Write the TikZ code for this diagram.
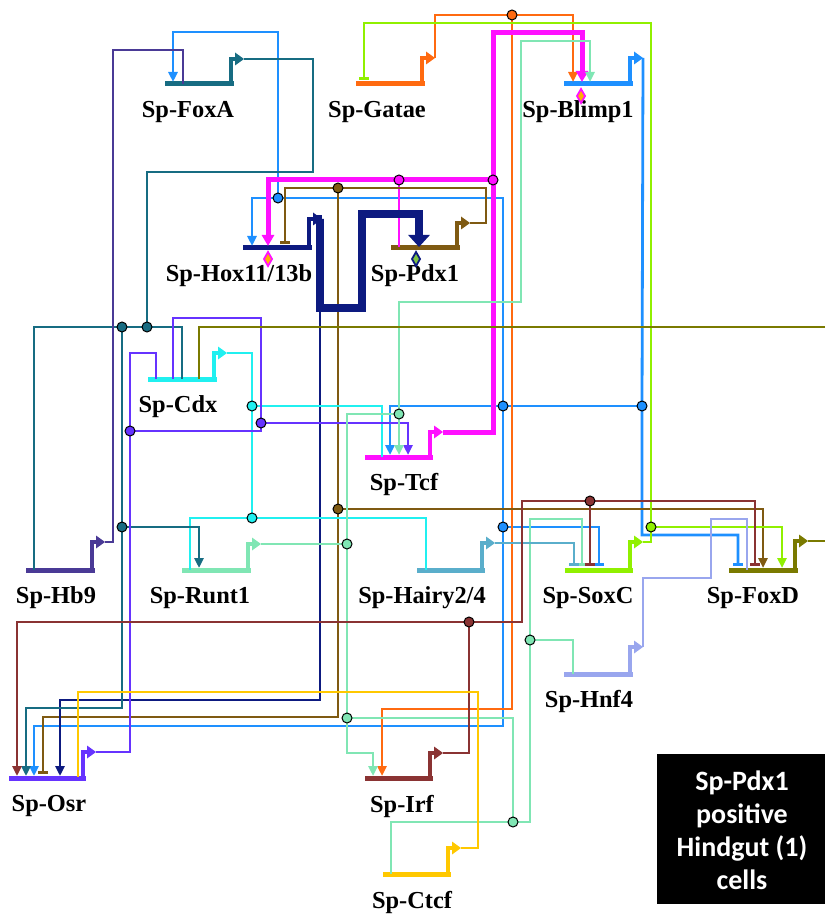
\documentclass[tikz,border=0pt]{standalone}
\usepackage{fontspec}
\setmainfont{Liberation Serif}
\newfontfamily\boxfont{Carlito}
\usetikzlibrary{arrows.meta}
\definecolor{cFoxA}{HTML}{176C82}
\definecolor{cGatae}{HTML}{FF6A10}
\definecolor{cBlimp}{HTML}{1E90FF}
\definecolor{cHox}{HTML}{0D1A80}
\definecolor{cPdx}{HTML}{7F5A12}
\definecolor{cCdx}{HTML}{20F0F0}
\definecolor{cTcf}{HTML}{FF10FF}
\definecolor{cHb}{HTML}{4A3A96}
\definecolor{cRunt}{HTML}{80E6B4}
\definecolor{cHairy}{HTML}{5AAECB}
\definecolor{cSoxC}{HTML}{90F000}
\definecolor{cFoxD}{HTML}{7A7A00}
\definecolor{cHnf}{HTML}{99A6EE}
\definecolor{cOsr}{HTML}{6633FF}
\definecolor{cIrf}{HTML}{8A3333}
\definecolor{cCtcf}{HTML}{FFC800}
\definecolor{cDia}{HTML}{FFB000}
\definecolor{cDiaG}{HTML}{7DC243}
\tikzset{
  lk/.style={line width=1.4pt},
  tk/.style={line width=2.5pt},
  act/.style={-{Triangle[length=5pt,width=4.5pt]}},
  tact/.style={-{Triangle[length=5.5pt,width=6pt]}},
  rep/.style={-{Bar[width=5pt]}},
  jn/.style={circle,draw=black,line width=0.5pt,minimum size=5pt,inner sep=0pt},
  lbl/.style={font=\bfseries\fontsize{12.2}{14}\selectfont,inner sep=0pt},
}
\newcommand\gene[8]{%
  \draw[color=#2,line width=2.5pt] (#3,#5) -- (#4,#5);
  \draw[color=#2,line width=2.1pt] ({#4-3},{#5+1}) -- ({#4-3},#6) -- ({#4+2},#6);
  \fill[color=#2] ({#4+1},{#6-6.5}) -- ({#4+10},#6) -- ({#4+1},{#6+6.5}) -- cycle;
  \coordinate (#1-o) at ({#4+10},#6);
  \node[lbl] (#1) at (#7,{#5+28}) {#8};
}
\newcommand\dia[3]{\draw[line width=0.9pt,draw=#2,fill=#3] (#1) ++(0,-7) -- ++(4,7) -- ++(-4,7) -- ++(-4,-7) -- cycle;}
\begin{document}
\begin{tikzpicture}[x=0.5pt,y=-0.5pt]
\useasboundingbox (0,0) rectangle (825,914);
% junctions
\coordinate (jB1) at (642,406);
\coordinate (jB2) at (503,406);
\coordinate (jB3) at (503,527);
\coordinate (jB4) at (278,198);
\coordinate (jG1) at (512,15);
\coordinate (jT1) at (493,180);
\coordinate (jT2) at (399,180);
\coordinate (jP1) at (338,188);
\coordinate (jP2) at (338,509);
\coordinate (jH1) at (320,308);
\coordinate (jC1) at (252,406);
\coordinate (jC2) at (252,518);
\coordinate (jF1) at (147,327);
\coordinate (jF2) at (122,327);
\coordinate (jF3) at (122,527);
\coordinate (jO1) at (130,431);
\coordinate (jO2) at (261,423);
\coordinate (jR1) at (347,544);
\coordinate (jR2) at (399,414);
\coordinate (jR3) at (347,718);
\coordinate (jR4) at (513,822);
\coordinate (jR5) at (530,640);
\coordinate (jS1) at (651,527);
\coordinate (jI1) at (469,622);
\coordinate (jI2) at (590,501);
\coordinate (eR1) at (825,541);
\coordinate (eR2) at (825,327);
% genes
\gene{foxa}{cFoxA}{165}{234}{84}{59}{188}{Sp-FoxA}
\gene{gatae}{cGatae}{356}{425}{84}{58}{377}{Sp-Gatae}
\gene{blimp}{cBlimp}{564}{633}{84}{58}{578}{Sp-Blimp1}
\gene{hox}{cHox}{243}{312}{248}{219}{239}{Sp-Hox11/13b}
\gene{pdx}{cPdx}{391}{460}{248}{223}{415}{Sp-Pdx1}
\gene{cdx}{cCdx}{148}{217}{379}{353}{178}{Sp-Cdx}
\gene{tcf}{cTcf}{365}{433}{457}{432}{404}{Sp-Tcf}
\gene{hb}{cHb}{26}{95}{570}{542}{56}{Sp-Hb9}
\gene{runt}{cRunt}{182}{251}{570}{544}{200}{Sp-Runt1}
\gene{hairy}{cHairy}{417}{485}{570}{543}{422}{Sp-Hairy2/4}
\gene{soxc}{cSoxC}{565}{633}{570}{542}{588}{Sp-SoxC}
\gene{foxd}{cFoxD}{729}{798}{570}{541}{753}{Sp-FoxD}
\gene{hnf}{cHnf}{564}{633}{674}{647}{589}{Sp-Hnf4}
\gene{osr}{cOsr}{9}{86}{778}{752}{49}{Sp-Osr}
\gene{irf}{cIrf}{365}{433}{778}{753}{402}{Sp-Irf}
\gene{ctcf}{cCtcf}{383}{451}{874}{848}{412}{Sp-Ctcf}
% Blimp1 links
\draw[lk,cBlimp,rep] (blimp-o) -- (jB1) -- (642,535) -| (738,566);
\draw[lk,cBlimp,act] (jB1) -- (jB2) -- (390,406) -- (390,455);
\draw[lk,cBlimp,act] (jB3) -- (jB2) -- (503,198) -- (jB4) -- (252,198) -- (252,246);
\draw[lk,cBlimp,act] (jB4) -- (278,32) -- (173,32) -- (173,82);
\draw[lk,cBlimp,rep] (jB3) -| (599,566);
\draw[lk,cBlimp,act] (jB3) -- (503,726) -| (34,776);
% Gatae links
\draw[lk,cGatae,act] (gatae-o) |- (jG1) -| (573,82);
\draw[lk,cGatae,act] (jG1) -- (512,709) -| (382,776);
% Tcf links
\draw[tk,cTcf,tact] (tcf-o) -| (jT1) -- (493,33) -| (582,82);
\draw[tk,cTcf,tact] (jT1) -- (jT2) -- (268,180) -- (268,246);
\draw[lk,cTcf] (jT2) -- (399,247);
% Pdx1 links
\draw[lk,cPdx,rep] (pdx-o) -- (486,223) |- (jP1) -- (285,188) -- (285,244);
\draw[lk,cPdx,rep] (jP1) -- (jP2) -- (338,717) -| (43,774);
\draw[lk,cPdx,act] (jP2) -| (763,568);
% Hox links
\draw[line width=3.6pt,cHox,-{Triangle[length=6pt,width=10.5pt]}] (hox-o) -- (jH1 |- hox-o) -- (jH1) -- (362,308) -- (362,214) -| (419,247);
\draw[lk,cHox,act] (jH1) -- (320,700) -| (60,776);
% Cdx links
\draw[lk,cCdx] (cdx-o) -| (jC1) -- (jC2) -| (190,570);
\draw[lk,cCdx] (jC1) -| (382,457);
\draw[lk,cCdx] (jC2) -| (426,570);
% FoxA links
\draw[lk,cFoxA] (foxa-o) -| (313,172) -| (jF1) -| (182,379);
\draw[lk,cFoxA] (jF1) -- (jF2) -| (34,570);
\draw[lk,cFoxA,act] (jF2) -- (jF3) -- (122,708) -| (26,776);
\draw[lk,cFoxA,act] (jF3) -| (199,568);
% Hb9 links
\draw[lk,cHb] (hb-o) -| (113,50) -| (183,84);
% Osr links
\draw[lk,cOsr] (osr-o) -| (jO1) -- (130,353) -| (156,379);
\draw[lk,cOsr] (jO1) -| (jO2) -- (261,318) -| (173,379);
\draw[lk,cOsr,act] (jO2) -| (408,455);
% Runt1 links
\draw[lk,cRunt] (runt-o) -- (jR1);
\draw[lk,cRunt,act] (jR1) |- (jR2) -- (399,455);
\draw[lk,cRunt,act] (jR2) -- (399,302) -| (521,41) -| (590,82);
\draw[lk,cRunt,act] (jR1) -- (jR3) -- (347,753) -| (373,776);
\draw[lk,cRunt] (jR3) -| (jR4) -| (391,874);
\draw[lk,cRunt] (jR4) -| (jR5) -| (573,674);
\draw[lk,cRunt,rep] (jR5) -- (530,519) -| (582,566);
% Hairy links
\draw[lk,cHairy,rep] (hairy-o) -| (574,566);
% SoxC links
\draw[lk,cSoxC,rep] (soxc-o) -| (jS1) -- (651,23) -| (364,80);
\draw[lk,cSoxC,act] (jS1) -| (782,568);
% FoxD links
\draw[lk,cFoxD] (foxd-o) -- (eR1);
\draw[lk,cFoxD] (eR2) -| (199,379);
% Hnf4 links
\draw[lk,cHnf] (hnf-o) -- (643,578) -- (711,578) -- (711,519) -| (747,570);
% Irf links
\draw[lk,cIrf] (irf-o) -| (jI1);
\draw[lk,cIrf,act] (jI1) -| (17,776);
\draw[lk,cIrf] (jI1) -| (522,501) -- (jI2);
\draw[lk,cIrf,rep] (jI2) -| (755,566);
\draw[lk,cIrf,rep] (jI2) -- (590,566);
% Ctcf links
\draw[lk,cCtcf] (ctcf-o) -| (478,692) -| (78,777);
% diamonds
\coordinate (dmB) at (581,96);
\coordinate (dmH) at (268,259);
\coordinate (dmP) at (416,259);
\dia{dmB}{cTcf}{cDia}
\dia{dmH}{cTcf}{cDia}
\dia{dmP}{cHox}{cDiaG}
% junction dots
\foreach \n/\c in {jB1/cBlimp,jB2/cBlimp,jB3/cBlimp,jB4/cBlimp,jG1/cGatae,jT1/cTcf,jT2/cTcf,jP1/cPdx,jP2/cPdx,jC1/cCdx,jC2/cCdx,jF1/cFoxA,jF2/cFoxA,jF3/cFoxA,jO1/cOsr,jO2/cOsr,jR1/cRunt,jR2/cRunt,jR3/cRunt,jR4/cRunt,jR5/cRunt,jS1/cSoxC,jI1/cIrf,jI2/cIrf}
  \node[jn,fill=\c] (d\n) at (\n) {};
\node[circle,fill=cHox,minimum size=3pt,inner sep=0pt] (djH1) at (jH1) {};
% legend box
\node[fill=black,minimum width=84pt,minimum height=75pt,inner sep=0pt,anchor=north west] (box) at (657,754) {};
\node[text=white,font=\boxfont\bfseries\fontsize{14}{16.5}\selectfont,align=center] (boxtxt) at (742,830) {Sp-Pdx1\\positive\\Hindgut (1)\\cells};
\end{tikzpicture}
\end{document}
